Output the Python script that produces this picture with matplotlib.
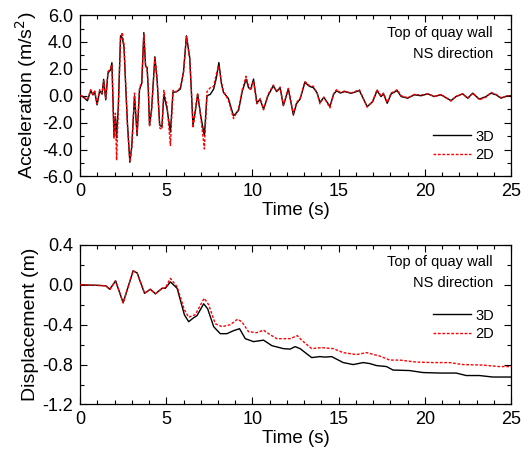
import numpy as np
import matplotlib
matplotlib.use("Agg")
import matplotlib.pyplot as plt
from matplotlib.ticker import MultipleLocator, FormatStrFormatter

plt.rcParams['font.family'] = ['Liberation Sans', 'DejaVu Sans']
plt.rcParams['axes.unicode_minus'] = False

# acceleration time history, top of quay wall
t_acc = [0.0, 0.08, 0.27, 0.43, 0.62, 0.75, 0.85, 0.99, 1.14, 1.28, 1.37, 1.49, 1.62, 1.76, 1.85,
         1.97, 2.05, 2.12, 2.22, 2.35, 2.45, 2.55, 2.65, 2.75, 2.89, 3.0, 3.16, 3.31, 3.45, 3.58,
         3.70, 3.80, 3.89, 3.96, 4.03, 4.15, 4.34, 4.47, 4.62, 4.75, 4.86, 5.05, 5.24, 5.39, 5.6,
         5.82, 6.0, 6.17, 6.36, 6.45, 6.55, 6.68, 6.82, 7.0, 7.21, 7.36, 7.55, 7.75, 7.9, 8.05,
         8.2, 8.32, 8.6, 8.9, 9.19, 9.4, 9.63, 9.77, 9.9, 10.06, 10.25, 10.45, 10.64, 10.9, 11.21,
         11.4, 11.6, 11.79, 12.08, 12.37, 12.55, 12.76, 13.04, 13.3, 13.53, 13.75, 13.91, 14.14,
         14.49, 14.7, 14.87, 15.1, 15.34, 15.72, 16.2, 16.65, 16.97, 17.22, 17.45, 17.6, 17.81,
         18.04, 18.39, 18.62, 19.0, 19.39, 19.77, 20.16, 20.54, 20.93, 21.51, 21.8, 22.19, 22.48,
         22.77, 23.15, 23.54, 23.83, 24.12, 24.41, 24.8, 25.0]
acc_3d = [0.0, 0.0, -0.19, -0.37, 0.38, 0.06, 0.31, -0.68, 0.38, 0.12, 1.22, -0.3, 1.67, 1.92, 2.46,
          -2.97, -1.55, -3.1, -0.8, 4.46, 4.3, 3.64, 0.68, -2.04, -4.95, -3.78, 0.0, -2.97, 0.44, 0.93,
          4.7, 2.2, 2.1, 0.44, -2.2, -1.0, 2.9, 1.17, -2.2, -2.3, 0.1, -1.0, -2.7, 0.25, 0.3,
          0.5, 1.8, 4.46, 2.85, 0.5, -2.2, -1.2, 0.12, -1.5, -2.97, 0.0, 0.1, 0.5, 1.3, 2.47,
          0.9, 0.25, -0.2, -1.5, -1.1, 0.3, 1.24, 0.6, 0.5, 1.24, -0.5, -0.3, -1.0, 0.0, 0.74,
          0.3, 0.6, -0.74, 0.5, -1.44, -0.6, -0.25, 1.0, 0.7, 0.6, 0.2, -0.5, -0.12,
          -0.8, 0.1, 0.37, 0.2, 0.31, 0.18, 0.38, -0.81, -0.44, 0.38, -0.06, 0.14, -0.56,
          0.14, 0.38, -0.06, -0.18, 0.07, 0.0, 0.14, -0.06, 0.07, -0.36, -0.06, 0.14, -0.18,
          0.19, -0.25, -0.06, 0.19, 0.07, -0.18, 0.0, 0.0]
acc_2d = [0.0, 0.0, -0.15, -0.3, 0.45, 0.1, 0.35, -0.6, 0.45, 0.2, 1.1, -0.2, 1.8, 2.0, 2.3,
          -3.2, -1.3, -4.8, -1.0, 4.3, 4.7, 3.8, 0.8, -2.3, -4.9, -3.9, 0.2, -2.8, 0.6, 1.0,
          4.6, 2.3, 1.9, 0.6, -2.3, -1.1, 2.8, 1.3, -2.4, -2.5, 0.4, -0.8, -3.7, 0.4, 0.3,
          0.6, 1.7, 4.4, 2.7, 0.6, -2.4, -1.1, 0.2, -1.6, -3.96, 0.3, 0.6, 0.7, 1.6, 2.2,
          1.0, 0.3, -0.3, -1.7, -1.0, 0.4, 1.45, 0.7, 0.4, 1.1, -0.6, -0.2, -1.05, 0.1, 0.8,
          0.3, 0.65, -0.7, 0.55, -1.35, -0.5, -0.2, 1.05, 0.75, 0.7, 0.2, -0.6, -0.1,
          -0.9, 0.15, 0.45, 0.25, 0.35, 0.2, 0.45, -0.85, -0.4, 0.45, 0.0, 0.2, -0.5,
          0.2, 0.45, 0.0, -0.15, 0.1, 0.05, 0.15, -0.05, 0.1, -0.4, -0.05, 0.15, -0.2,
          0.2, -0.3, -0.1, 0.25, 0.1, -0.15, 0.0, 0.0]

# displacement time history
t_d3 = [0.0, 1.0, 1.5, 1.73, 2.06, 2.5, 3.08, 3.31, 3.74, 4.08, 4.37, 4.76, 4.95, 5.24, 5.63,
        6.05, 6.30, 6.59, 6.78, 7.17, 7.4, 7.75, 8.13, 8.52, 8.9, 9.25, 9.58, 10.06, 10.64, 11.12,
        11.79, 12.18, 12.47, 12.76, 13.43, 13.91, 14.2, 14.59, 15.26, 15.84, 16.42, 16.8, 17.19,
        17.77, 18.15, 19.11, 19.88, 20.85, 21.81, 22.39, 23.16, 23.93, 25.0]
disp_3d = [0.0, -0.005, -0.01, -0.045, 0.04, -0.18, 0.14, 0.12, -0.085, -0.045, -0.09, -0.035,
           -0.035, 0.03, -0.035, -0.30, -0.37, -0.33, -0.31, -0.19, -0.24, -0.42, -0.49, -0.49,
           -0.46, -0.44, -0.54, -0.57, -0.555, -0.61, -0.64, -0.645, -0.62, -0.64, -0.73, -0.72,
           -0.725, -0.72, -0.78, -0.80, -0.78, -0.79, -0.81, -0.82, -0.855, -0.86, -0.88, -0.885,
           -0.885, -0.91, -0.91, -0.925, -0.925]
t_d2 = [0.0, 1.0, 1.5, 1.73, 2.06, 2.5, 3.08, 3.31, 3.74, 4.08, 4.37, 4.76, 4.95, 5.24, 5.63,
        6.05, 6.3, 6.68, 7.2, 7.46, 7.84, 8.23, 8.71, 9.13, 9.38, 9.77, 10.25, 10.64, 11.02, 11.41,
        12.18, 12.6, 12.85, 13.43, 14.0, 14.68, 15.26, 16.03, 16.61, 17.38, 17.96, 18.54, 19.5,
        20.46, 21.42, 22.2, 23.35, 24.3, 25.0]
disp_2d = [0.0, -0.005, -0.01, -0.045, 0.04, -0.18, 0.14, 0.12, -0.085, -0.045, -0.09, -0.035,
           -0.03, 0.065, -0.02, -0.25, -0.325, -0.30, -0.135, -0.2, -0.39, -0.42, -0.40, -0.345,
           -0.37, -0.47, -0.48, -0.455, -0.50, -0.54, -0.54, -0.51, -0.555, -0.64, -0.63, -0.64,
           -0.68, -0.70, -0.68, -0.715, -0.755, -0.755, -0.775, -0.78, -0.78, -0.80, -0.805,
           -0.82, -0.82]

fig = plt.figure(figsize=(5.31, 4.57), dpi=100)
ax1 = fig.add_axes([0.1507, 0.614, 0.812, 0.353])
ax2 = fig.add_axes([0.1507, 0.115, 0.812, 0.349])


def style_axis(ax, ylim, ymajor, yminor):
    ax.set_xlim(0, 25)
    ax.set_ylim(*ylim)
    ax.xaxis.set_major_locator(MultipleLocator(5))
    ax.xaxis.set_minor_locator(MultipleLocator(1))
    ax.yaxis.set_major_locator(MultipleLocator(ymajor))
    ax.yaxis.set_minor_locator(MultipleLocator(yminor))
    ax.yaxis.set_major_formatter(FormatStrFormatter('%.1f'))
    ax.tick_params(which='both', direction='in', top=True, right=True, labelsize=13, width=0.8)
    ax.tick_params(which='major', length=5, pad=5)
    ax.tick_params(which='minor', length=3)
    for sp in ax.spines.values():
        sp.set_linewidth(0.9)
    ax.set_xlabel('Time (s)', fontsize=13.5, labelpad=1)
    ax.text(0.958, 0.89, 'Top of quay wall', transform=ax.transAxes, ha='right', va='center', fontsize=10.5)
    ax.text(0.958, 0.76, 'NS direction', transform=ax.transAxes, ha='right', va='center', fontsize=10.5)


ax1.plot(t_acc, acc_2d, color='red', lw=1.0, ls=(0, (2, 1.2)), label='2D', zorder=3)
ax1.plot(t_acc, acc_3d, color='black', lw=1.0, label='3D', zorder=2)
style_axis(ax1, (-6, 6), 2, 1)
ax1.set_ylabel('Acceleration (m/s$^2$)', fontsize=14, labelpad=2)
h, l = ax1.get_legend_handles_labels()
ax1.legend(h[::-1], l[::-1], loc='center right', bbox_to_anchor=(0.99, 0.19), frameon=False,
           fontsize=10.5, handlelength=2.6, handletextpad=0.3, labelspacing=0.3)

ax2.plot(t_d3, disp_3d, color='black', lw=1.0, label='3D', zorder=2)
ax2.plot(t_d2, disp_2d, color='red', lw=1.0, ls=(0, (2, 1.2)), label='2D', zorder=3)
style_axis(ax2, (-1.2, 0.4), 0.4, 0.2)
ax2.set_ylabel('Displacement (m)', fontsize=14, labelpad=2)
ax2.legend(loc='center right', bbox_to_anchor=(0.99, 0.50), frameon=False,
           fontsize=10.5, handlelength=2.6, handletextpad=0.3, labelspacing=0.3)

fig.savefig('out.png', dpi=100)
